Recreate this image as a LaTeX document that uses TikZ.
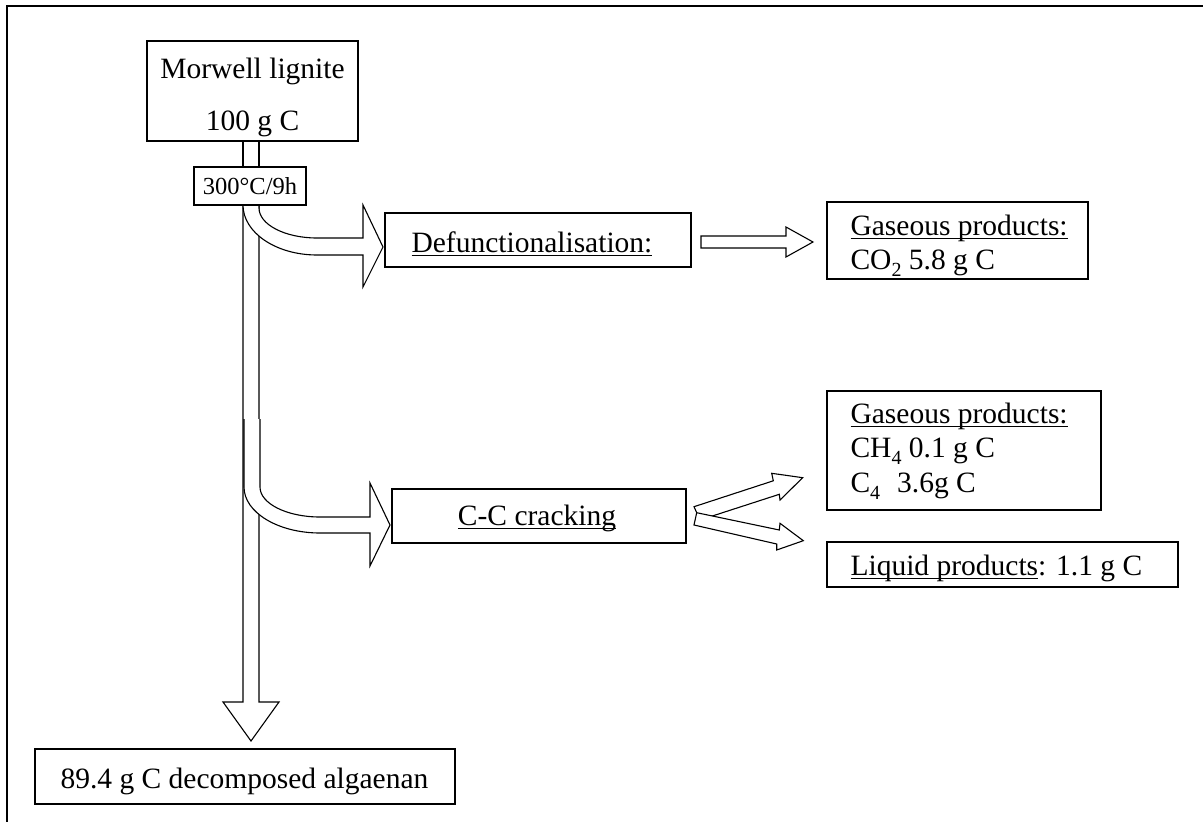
\documentclass[tikz,border=0pt]{standalone}
\usepackage{fontspec}
\setmainfont{Liberation Serif}
\newcommand\ulx[1]{\setbox0=\hbox{#1}\rlap{\rule[-4pt]{\wd0}{1.3pt}}\box0}
\newcommand\sbx[1]{\raisebox{-7pt}{\fontsize{20}{20}\selectfont #1}}
\begin{document}
\begin{tikzpicture}[x=1pt,y=-1pt,line width=1.1pt,
  box/.style={draw,fill=white,inner sep=0pt},
  txt/.style={inner sep=0pt,font=\fontsize{29.5}{35}\selectfont},
  smalltxt/.style={inner sep=0pt,font=\fontsize{24.5}{29}\selectfont},
  barrow/.style={draw,fill=white,line join=miter}]
\useasboundingbox (0,0) rectangle (1203,822);
% frame
\draw (7,822) -- (7,6) -- (1203,6);

% main shaft
\draw[barrow] (243,205) -- (243,702) -- (223,702) -- (251,741) -- (279,702) -- (259,702) -- (259,205);
% stem between the two top boxes
\draw (243,141) -- (243,167) (259,141) -- (259,167);

% branch 1 (to Defunctionalisation)
\draw[barrow] (259,205) -- (259,208) .. controls (259,224.6) and (285,238) .. (317,238)
  -- (363,238) -- (363,205) -- (383,247) -- (363,287) -- (363,255) -- (317,255)
  .. controls (276,255) and (243,232.6) .. (243,205);

% branch 2 (to C-C cracking)
\draw[barrow] (260,419) -- (260,487) .. controls (260,503.6) and (286.9,517) .. (320,517)
  -- (370,517) -- (370,483) -- (390,525) -- (370,566) -- (370,533) -- (320,533)
  .. controls (278,533) and (244,512.4) .. (244,487) -- (244,419);

% boxes
\node[box,minimum width=211pt,minimum height=100pt] (morwell) at (252.5,91) {};
\node[box,minimum width=112pt,minimum height=38pt] (temp) at (250,186) {};
\node[box,minimum width=306pt,minimum height=54pt] (defunc) at (538,240) {};
\node[box,minimum width=261pt,minimum height=77pt] (gasA) at (957.5,240.5) {};
\node[box,minimum width=294pt,minimum height=54pt] (crack) at (539,516) {};
\node[box,minimum width=274pt,minimum height=119pt] (gasB) at (964,450.5) {};
\node[box,minimum width=351pt,minimum height=45pt] (liquid) at (1002.5,564.5) {};
\node[box,minimum width=420pt,minimum height=55pt] (residue) at (245,776.5) {};

% arrow Defunctionalisation -> gaseous products
\draw[barrow] (701,236) -- (786,236) -- (786,227) -- (813,242) -- (786,257) -- (786,248) -- (701,248) -- cycle;

% split arrows from C-C cracking
\draw[barrow] (694,506.7) -- (773.3,480.8) -- (771.7,473.3) -- (802.7,477.7) -- (780,500) -- (779.3,494.3) -- (700,520) -- cycle;
\draw[barrow] (696.7,512.7) -- (779.3,530) -- (780,523.3) -- (803.3,540.7) -- (776.7,550) -- (776.7,544) -- (694,525) -- cycle;

% texts
\node[txt,anchor=base] (tM1) at (252.5,78) {Morwell lignite};
\node[txt,anchor=base] (tM2) at (252.5,130) {100 g C};
\node[smalltxt,anchor=base] (tT) at (250,194) {300°C/9h};
\node[txt,anchor=base west] (tD) at (411,252) {\ulx{Defunctionalisation:}};
\node[txt,anchor=base west] (tGA1) at (850,235) {\ulx{Gaseous products:}};
\node[txt,anchor=base west] (tGA2) at (850,269) {CO\sbx{2} 5.8 g C};
\node[txt,anchor=base] (tC) at (537,525) {\ulx{C-C cracking}};
\node[txt,anchor=base west] (tGB1) at (850,423) {\ulx{Gaseous products:}};
\node[txt,anchor=base west] (tGB2) at (850,457) {CH\sbx{4} 0.1 g C};
\node[txt,anchor=base west] (tGB3) at (850,492) {C\sbx{4}\hspace*{17pt}3.6g C};
\node[txt,anchor=base west] (tL) at (850,575) {\ulx{Liquid products}: 1.1 g C};
\node[txt,anchor=base west] (tR) at (60,788) {89.4 g C decomposed algaenan};
\end{tikzpicture}
\end{document}
